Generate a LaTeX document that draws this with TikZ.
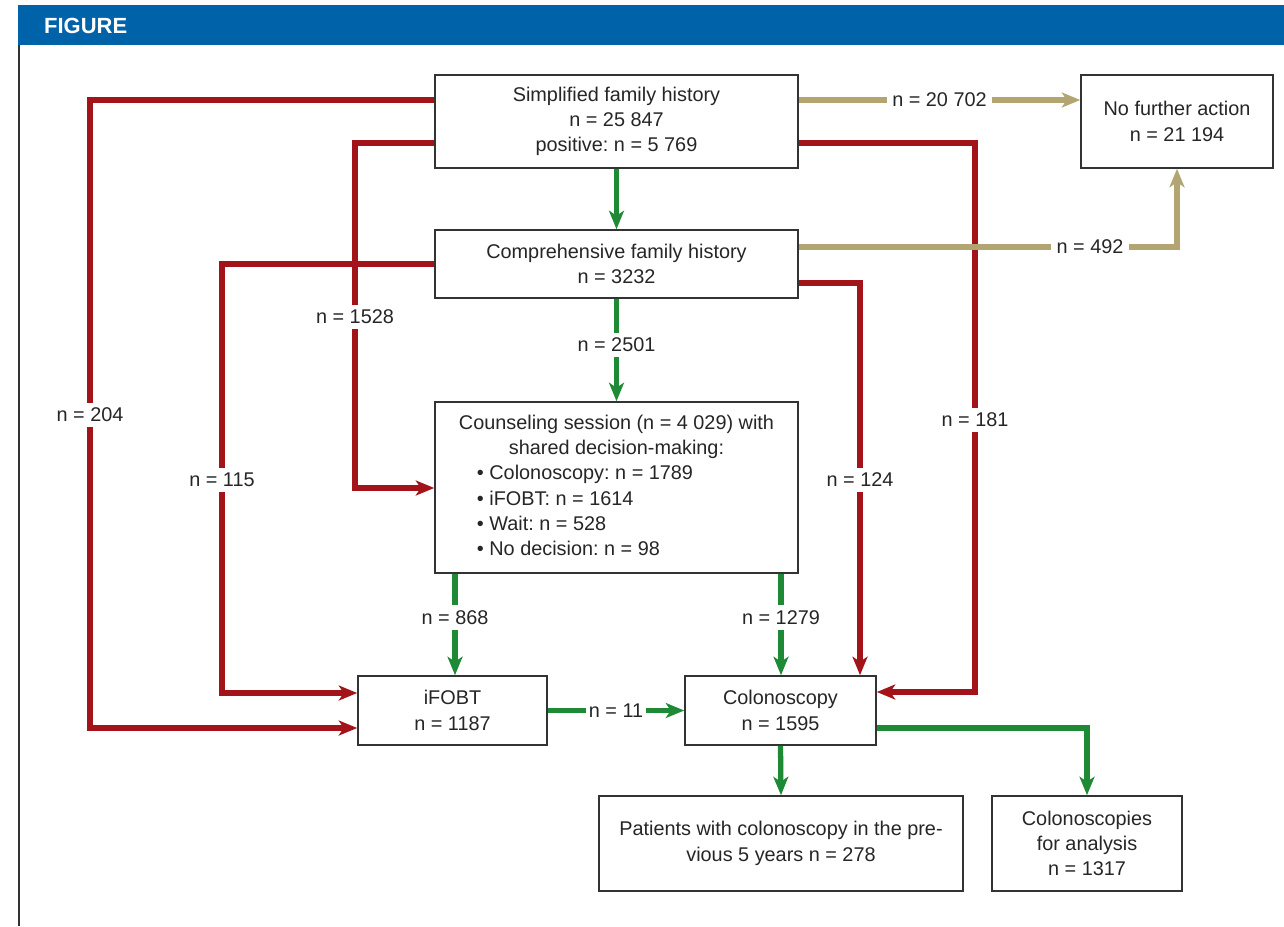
\documentclass[tikz,border=0pt]{standalone}
\usepackage{fontspec}
\setmainfont{Liberation Sans}
\usetikzlibrary{arrows.meta,calc}
\definecolor{cred}{HTML}{A3141A}
\definecolor{cgreen}{HTML}{1F8A36}
\definecolor{ctan}{HTML}{B2A572}
\definecolor{cblue}{HTML}{0062A8}
\definecolor{cbox}{HTML}{333333}
\frenchspacing
\begin{document}
\begin{tikzpicture}[x=0.02cm,y=-0.02cm,
  every node/.style={font=\fontsize{11.3}{14.4}\selectfont, text=black!85},
  box/.style={draw=cbox, line width=0.9pt, fill=white, align=center, inner sep=2pt},
  conn/.style={line width=3pt, -{Stealth[length=10.5pt,width=8.5pt,inset=2.8pt]}},
  redc/.style={conn, draw=cred},
  greenc/.style={conn, draw=cgreen},
  tanc/.style={conn, draw=ctan},
  lbl/.style={fill=white, inner sep=3pt}]
\useasboundingbox (0,0) rectangle (1284,926);
\fill[white] (0,0) rectangle (1284,926);
% frame
\fill[cblue] (18,5) rectangle (1284,45);
\node[anchor=west, text=white, font=\fontsize{12.5}{14}\selectfont\bfseries] (fig) at (38,26) {FIGURE};
\draw[black!80, line width=0.9pt] (19,45) -- (19,926);
% boxes
\node[box, minimum width=7.26cm, minimum height=1.86cm] (simp) at (616.5,121.5) {Simplified family history\\ n = 25 847\\ positive: n = 5 769};
\node[box, minimum width=3.84cm, minimum height=1.86cm] (nfa) at (1177,121.5) {No further action\\ n = 21 194};
\node[box, minimum width=7.26cm, minimum height=1.36cm] (comp) at (616.5,264) {Comprehensive family history\\ n = 3232};
\node[box, minimum width=7.26cm, minimum height=3.42cm] (couns) at (616.5,487.5) {\begin{tabular}{@{}l@{}}Counseling session (n = 4 029) with\\ \multicolumn{1}{@{}c@{}}{shared decision-making:}\\ \hspace{0.36cm}• Colonoscopy: n = 1789\\ \hspace{0.36cm}• iFOBT: n = 1614\\ \hspace{0.36cm}• Wait: n = 528\\ \hspace{0.36cm}• No decision: n = 98\end{tabular}};
\node[box, minimum width=3.78cm, minimum height=1.38cm] (ifobt) at (452.5,710.5) {iFOBT\\ n = 1187};
\node[box, minimum width=3.82cm, minimum height=1.38cm] (colo) at (780.5,710.5) {Colonoscopy\\ n = 1595};
\node[box, minimum width=7.28cm, minimum height=1.9cm] (pat) at (781,843.5) {Patients with colonoscopy in the pre-\\ vious 5 years n = 278};
\node[box, minimum width=3.8cm, minimum height=1.9cm] (anal) at (1087,843.5) {Colonoscopies\\ for analysis\\ n = 1317};
% red connectors
\draw[redc] (simp.west |- 0,100) -| (90,415) node[lbl] (l204) {n = 204} |- (ifobt.west |- 0,728);
\draw[redc] (simp.west |- 0,143) -| (355,317) node[lbl] (l1528) {n = 1528} |- (couns.west |- 0,488);
\draw[redc] (comp.west |- 0,264) -| (222,480) node[lbl] (l115) {n = 115} |- (ifobt.west |- 0,693);
\draw[redc] (simp.east |- 0,143) -| (975,420) node[lbl] (l181) {n = 181} |- (colo.east |- 0,692);
\draw[redc] (comp.east |- 0,283) -| (860,480) node[lbl] (l124) {n = 124} -- (colo.north -| 860,0);
% tan connectors
\draw[tanc] (simp.east |- 0,100) -- node[lbl] (l20702) {n = 20 702} (nfa.west |- 0,100);
\draw[tanc] (comp.east |- 0,247) -- (1090,247) node[lbl] (l492) {n = 492} -| (nfa.south);
% green connectors
\draw[greenc] (simp.south) -- (comp.north);
\draw[greenc] (comp.south) -- node[lbl, pos=0.45] (l2501) {n = 2501} (couns.north);
\draw[greenc] (couns.south -| 455,0) -- node[lbl,pos=0.43] (l868) {n = 868} (ifobt.north -| 455,0);
\draw[greenc] (couns.south -| 781,0) -- node[lbl,pos=0.43] (l1279) {n = 1279} (colo.north -| 781,0);
\draw[greenc] (ifobt.east) -- node[lbl, inner sep=1.5pt] (l11) {n = 11} (colo.west);
\draw[greenc] (colo.south) -- (pat.north);
\draw[greenc] (colo.east |- 0,728) -| (anal.north);
\end{tikzpicture}
\end{document}
